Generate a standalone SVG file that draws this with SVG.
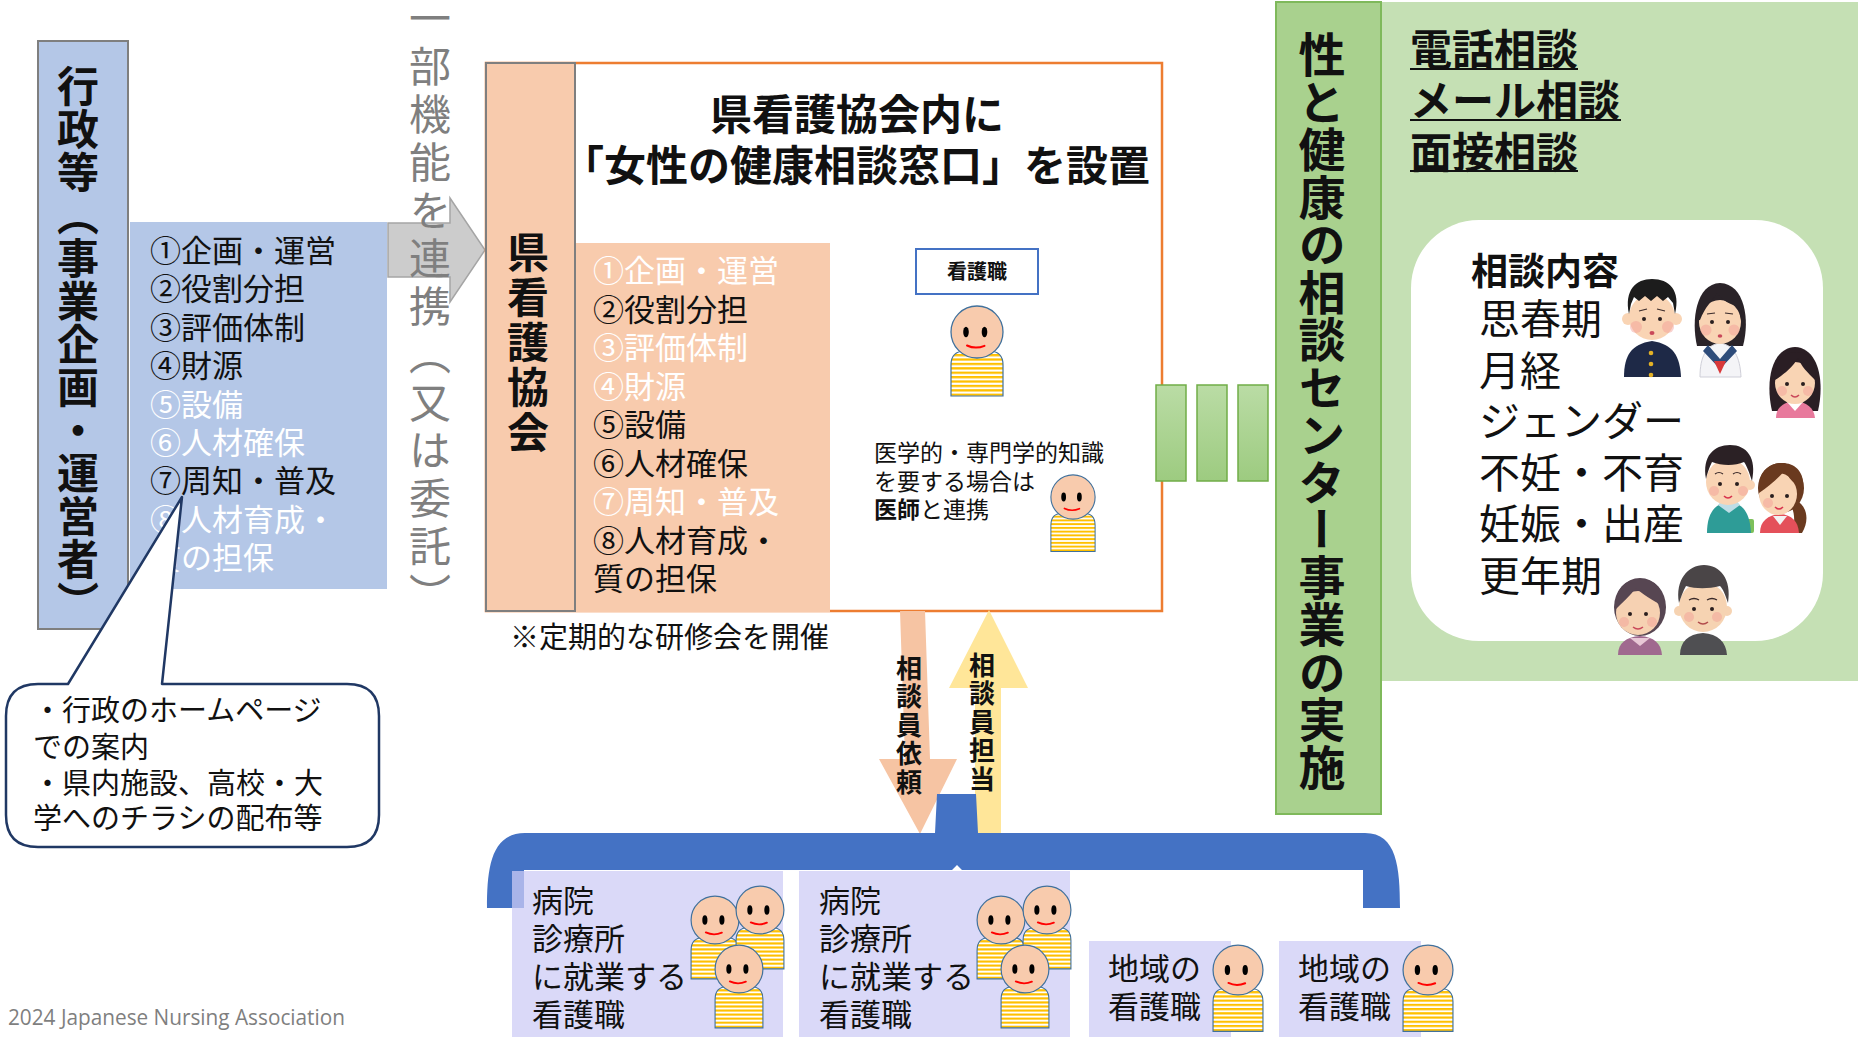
<svg xmlns="http://www.w3.org/2000/svg" xmlns:xlink="http://www.w3.org/1999/xlink" width="1858" height="1037" viewBox="0 0 1858 1037">
  <style>
    text { font-family: "Noto Sans CJK JP", "Noto Sans", sans-serif; fill: #111; }
    .b { font-weight: 700; }
    .vt { writing-mode: vertical-rl; }
    .wt { fill: #fff; }
    .list { font-size: 31px; }
    .skin { fill: #F9D4B4; }
    .blush { fill: #F29C94; opacity: 0.45; }
    .eye { fill: #2A1F1F; }
  </style>
  <defs>
    <pattern id="stripe" patternUnits="userSpaceOnUse" width="10" height="4.4">
      <rect width="10" height="4.4" fill="#FFFFFF"/>
      <rect width="10" height="2.3" fill="#FFC000"/>
    </pattern>
    <linearGradient id="gbar" x1="0" y1="0" x2="0" y2="1">
      <stop offset="0" stop-color="#BADCA5"/>
      <stop offset="1" stop-color="#9DCB80"/>
    </linearGradient>
    <!-- simple nurse figure, head centred on the origin -->
    <g id="person">
      <path d="M-26,64 V33 Q-26,19 -12,19 H12 Q26,19 26,33 V64 Z" fill="url(#stripe)" stroke="#41719C" stroke-width="1.2"/>
      <circle r="26" fill="#F8CBAD" stroke="#41719C" stroke-width="1.3"/>
      <ellipse cx="-11" cy="0" rx="2.8" ry="5.2" fill="#000"/>
      <ellipse cx="7.5" cy="0" rx="2.8" ry="5.2" fill="#000"/>
      <path d="M-10,13.5 Q-1.5,17.5 7.5,13.8" fill="none" stroke="#FF0000" stroke-width="2" stroke-linecap="round"/>
    </g>
  </defs>

  <!-- administration column -->
  <g id="admin">
    <rect x="38" y="41" width="90" height="588" fill="#B4C7E7" stroke="#7F7F7F" stroke-width="2"/>
    <text class="vt b" x="78" y="65" font-size="42" letter-spacing="1">行政等（事業企画・運営者）</text>
  </g>

  <!-- administration role list -->
  <g id="admin-list">
    <rect x="130" y="222" width="257" height="367" fill="#B4C7E7"/>
    <text class="list" x="150" y="262">①企画・運営<tspan x="150" dy="38.4">②役割分担</tspan><tspan x="150" dy="38.4">③評価体制</tspan><tspan x="150" dy="38.4">④財源</tspan><tspan class="wt" x="150" dy="38.4">⑤設備</tspan><tspan class="wt" x="150" dy="38.4">⑥人材確保</tspan><tspan x="150" dy="38.4">⑦周知・普及</tspan><tspan class="wt" x="150" dy="38.4">⑧人材育成・</tspan><tspan class="wt" x="150" dy="38.4">質の担保</tspan></text>
  </g>

  <!-- partial delegation arrow -->
  <g id="delegation">
    <polygon points="388,223 450,223 450,198 485,250 450,302 450,277 388,277" fill="#CCCCCC" stroke="#A5A5A5" stroke-width="1.5"/>
    <text class="vt" x="430" y="-3" font-size="42" letter-spacing="6" style="fill:#7F7F7F">一部機能を連携（又は委託）</text>
  </g>

  <!-- nursing association and consultation desk -->
  <g id="association">
    <rect x="486" y="63" width="676" height="548" fill="#FFFFFF" stroke="#ED7D31" stroke-width="2.5"/>
    <rect x="486" y="63" width="89" height="548" fill="#F8CBAD" stroke="#7F7F7F" stroke-width="2"/>
    <text class="vt b" x="528" y="231" font-size="42" letter-spacing="3">県看護協会</text>
    <text class="b" x="710" y="130" font-size="42">県看護協会内に<tspan x="562" dy="51">「女性の健康相談窓口」を設置</tspan></text>
  </g>

  <g id="association-list">
    <rect x="576" y="243" width="254" height="369" fill="#F8CBAD"/>
    <text class="list" x="593" y="282"><tspan class="wt">①企画・運営</tspan><tspan x="593" dy="38.5">②役割分担</tspan><tspan class="wt" x="593" dy="38.5">③評価体制</tspan><tspan class="wt" x="593" dy="38.5">④財源</tspan><tspan x="593" dy="38.5">⑤設備</tspan><tspan x="593" dy="38.5">⑥人材確保</tspan><tspan class="wt" x="593" dy="38.5">⑦周知・普及</tspan><tspan x="593" dy="38.5">⑧人材育成・</tspan><tspan x="593" dy="38.5">質の担保</tspan></text>
  </g>

  <g id="nurse">
    <rect x="916" y="249" width="122" height="45" fill="#FFFFFF" stroke="#4472C4" stroke-width="2"/>
    <text class="b" x="977" y="279" font-size="20" text-anchor="middle">看護職</text>
    <use href="#person" transform="translate(977,332)"/>
  </g>

  <g id="doctor">
    <text x="874" y="461" font-size="23">医学的・専門学的知識<tspan x="874" dy="28.5">を要する場合は</tspan><tspan x="874" dy="28.5" class="b">医師</tspan><tspan>と連携</tspan></text>
    <use href="#person" transform="translate(1073,497) scale(0.85)"/>
  </g>

  <text id="training" x="510" y="648" font-size="29">※定期的な研修会を開催</text>

  <!-- link bars to the centre -->
  <g id="link-bars" fill="url(#gbar)" stroke="#70AD47" stroke-width="1.5">
    <rect x="1156" y="385" width="30" height="96"/>
    <rect x="1197" y="385" width="30" height="96"/>
    <rect x="1238" y="385" width="30" height="96"/>
  </g>

  <!-- consultation centre -->
  <g id="center-panel">
    <rect x="1381" y="2" width="477" height="679" fill="#C5E0B4"/>
    <rect x="1276" y="2" width="105" height="812" fill="#A9D18E" stroke="#7FB95B" stroke-width="2"/>
    <text class="vt b" x="1322" y="31" font-size="47" letter-spacing="0.5">性と健康の相談センター事業の実施</text>
  </g>

  <g id="channels">
    <text class="b" x="1410" y="65" font-size="42">電話相談<tspan x="1410" dy="51">メール相談</tspan><tspan x="1410" dy="52">面接相談</tspan></text>
    <g stroke="#111" stroke-width="2">
      <line x1="1410" y1="69" x2="1578" y2="69"/>
      <line x1="1410" y1="120" x2="1621" y2="120"/>
      <line x1="1410" y1="171" x2="1578" y2="171"/>
    </g>
  </g>

  <g id="topics">
    <rect x="1411" y="220" width="412" height="421" rx="68" fill="#FFFFFF"/>
    <text class="b" x="1471" y="285" font-size="37">相談内容</text>
    <text x="1479" y="334" font-size="41">思春期<tspan x="1479" dy="52">月経</tspan><tspan x="1479" dy="50">ジェンダー</tspan><tspan x="1479" dy="52">不妊・不育</tspan><tspan x="1479" dy="51">妊娠・出産</tspan><tspan x="1479" dy="52">更年期</tspan></text>
  </g>

  <!-- illustrated consulters -->
  <g id="boy">
    <path d="M1624,377 C1624,356 1631,344 1652,341 C1673,344 1680,356 1681,377 Z" fill="#1E2947"/>
    <circle cx="1651" cy="353" r="2.3" fill="#E3B126"/>
    <circle cx="1651" cy="364" r="2.3" fill="#E3B126"/>
    <circle cx="1651" cy="375" r="2.3" fill="#E3B126"/>
    <circle class="skin" cx="1628" cy="319" r="6"/>
    <circle class="skin" cx="1676" cy="319" r="6"/>
    <ellipse class="skin" cx="1652" cy="317" rx="23" ry="23"/>
    <path d="M1629,314 C1624,290 1636,279 1652,279 C1669,279 1681,290 1675,314 L1673,303 L1668,297 L1663,301 L1657,296 L1651,301 L1645,296 L1639,301 L1634,297 L1631,304 Z" fill="#1C1C1C"/>
    <circle class="blush" cx="1636" cy="327" r="6"/>
    <circle class="blush" cx="1668" cy="327" r="6"/>
    <circle class="eye" cx="1644" cy="319" r="2"/>
    <circle class="eye" cx="1660" cy="319" r="2"/>
    <path d="M1639,311 L1647,309 M1657,309 L1665,311" stroke="#3A2A2A" stroke-width="1.2" fill="none"/>
    <ellipse cx="1652" cy="333" rx="2.5" ry="2" fill="#C9485A"/>
  </g>

  <g id="schoolgirl">
    <path d="M1697,346 C1691,320 1696,284 1720,283 C1745,284 1750,320 1743,346 Z" fill="#2A2328"/>
    <path d="M1700,377 C1700,357 1706,345 1720,343 C1734,345 1740,357 1741,377 Z" fill="#F4F4F7" stroke="#CFCFD8" stroke-width="1"/>
    <path d="M1703,351 L1720,369 L1737,351 L1732,345 L1720,359 L1708,345 Z" fill="#2E4C7A"/>
    <path d="M1714,361 L1720,374 L1726,361 Z" fill="#D9393A"/>
    <ellipse class="skin" cx="1720" cy="322" rx="21" ry="22"/>
    <path d="M1699,320 C1697,297 1707,287 1720,287 C1734,287 1744,297 1741,320 L1738,306 C1730,305 1722,300 1717,293 C1712,301 1705,307 1700,320 Z" fill="#2A2328"/>
    <circle class="blush" cx="1706" cy="330" r="5.5"/>
    <circle class="blush" cx="1734" cy="330" r="5.5"/>
    <circle class="eye" cx="1712" cy="322" r="2"/>
    <circle class="eye" cx="1728" cy="322" r="2"/>
    <path d="M1707,314 L1715,313 M1725,313 L1733,314" stroke="#3A2A2A" stroke-width="1.2" fill="none"/>
    <ellipse cx="1720" cy="336" rx="2.3" ry="1.8" fill="#C9485A"/>
  </g>

  <g id="girl">
    <path d="M1772,411 C1765,380 1772,348 1795,347 C1818,348 1825,380 1818,411 Z" fill="#2A1E24"/>
    <path d="M1776,418 C1776,408 1783,402 1795,401 C1807,402 1814,408 1815,418 Z" fill="#E8799C"/>
    <path d="M1787,402 L1795,411 L1803,402 Z" fill="#FFFFFF"/>
    <ellipse class="skin" cx="1795" cy="383" rx="20" ry="21"/>
    <path d="M1775,380 C1774,361 1784,352 1796,352 C1809,352 1817,361 1815,380 C1808,373 1801,366 1798,358 C1792,368 1783,375 1775,380 Z" fill="#2A1E24"/>
    <circle class="blush" cx="1782" cy="391" r="5"/>
    <circle class="blush" cx="1808" cy="391" r="5"/>
    <circle class="eye" cx="1787" cy="384" r="2"/>
    <circle class="eye" cx="1803" cy="384" r="2"/>
    <path d="M1791,395 Q1795,399 1799,395" stroke="#C9485A" stroke-width="1.5" fill="none"/>
  </g>

  <g id="young-man">
    <rect x="1747" y="519" width="7" height="14" rx="2" fill="#7DC05A"/>
    <path d="M1707,533 C1707,513 1715,503 1729,502 C1743,503 1750,513 1751,533 Z" fill="#2E9C97"/>
    <path d="M1718,505 L1729,513 L1740,505 L1736,500 L1722,500 Z" fill="#BFDDE6"/>
    <circle class="skin" cx="1750" cy="485" r="5"/>
    <ellipse class="skin" cx="1728" cy="482" rx="22" ry="23"/>
    <path d="M1706,479 C1702,456 1714,445 1730,445 C1747,445 1757,458 1752,481 C1749,472 1747,466 1744,462 C1735,466 1722,466 1712,462 C1709,468 1707,474 1706,479 Z" fill="#2B2125"/>
    <circle class="blush" cx="1714" cy="491" r="5"/>
    <circle class="blush" cx="1743" cy="491" r="5"/>
    <circle class="eye" cx="1720" cy="484" r="2"/>
    <circle class="eye" cx="1737" cy="484" r="2"/>
    <path d="M1715,474 Q1719,471 1723,474 M1733,474 Q1737,471 1741,474" stroke="#3A2A2A" stroke-width="1.2" fill="none"/>
    <path d="M1724,496 Q1728,500 1732,496" stroke="#D8344E" stroke-width="1.6" fill="none"/>
  </g>

  <g id="young-woman">
    <path d="M1795,500 C1807,505 1810,520 1802,533 L1792,533 C1796,520 1794,510 1790,504 Z" fill="#6A3A1F"/>
    <ellipse cx="1781" cy="488" rx="23" ry="25" fill="#6A3A1F"/>
    <path d="M1760,533 C1760,521 1768,515 1780,514 C1792,515 1798,521 1799,533 Z" fill="#E4505A"/>
    <path d="M1773,516 L1780,525 L1787,516 Z" fill="#F2F2F2"/>
    <ellipse class="skin" cx="1778" cy="494" rx="19" ry="21"/>
    <path d="M1759,493 C1757,473 1768,463 1782,463 C1796,463 1805,473 1803,489 C1795,485 1788,478 1785,470 C1778,479 1768,487 1759,493 Z" fill="#6A3A1F"/>
    <circle class="blush" cx="1768" cy="503" r="5"/>
    <circle class="eye" cx="1772" cy="496" r="2"/>
    <circle class="eye" cx="1787" cy="496" r="2"/>
    <path d="M1775,507 Q1779,511 1783,507" stroke="#D8344E" stroke-width="1.6" fill="none"/>
  </g>

  <g id="older-woman">
    <ellipse cx="1640" cy="607" rx="26" ry="29" fill="#574652"/>
    <path d="M1618,655 C1618,643 1626,637 1640,636 C1654,637 1661,643 1662,655 Z" fill="#A0698F"/>
    <path d="M1630,638 L1640,646 L1650,638 Z" fill="#E8C7D6"/>
    <ellipse cx="1638" cy="613" rx="22" ry="22" fill="#F6D1B2"/>
    <path d="M1616,609 C1614,589 1626,579 1640,579 C1655,579 1665,590 1663,606 C1652,600 1642,594 1636,588 C1630,596 1622,603 1616,609 Z" fill="#574652"/>
    <circle class="blush" cx="1624" cy="622" r="5"/>
    <circle class="blush" cx="1652" cy="622" r="5"/>
    <circle class="eye" cx="1630" cy="614" r="2"/>
    <circle class="eye" cx="1646" cy="614" r="2"/>
    <path d="M1633,627 Q1638,631 1643,627" stroke="#C9485A" stroke-width="1.5" fill="none"/>
  </g>

  <g id="older-man">
    <circle cx="1679" cy="611" r="5" fill="#F6D3B2"/>
    <circle cx="1727" cy="611" r="5" fill="#F6D3B2"/>
    <path d="M1680,655 C1680,642 1688,634 1703,633 C1718,634 1726,642 1727,655 Z" fill="#4F4F52"/>
    <ellipse cx="1703" cy="607" rx="24" ry="25" fill="#F6D3B2"/>
    <path d="M1679,603 C1675,580 1688,565 1704,565 C1720,565 1732,579 1728,603 C1725,594 1723,589 1720,586 C1708,589 1696,589 1686,586 C1683,591 1681,597 1679,603 Z" fill="#4A4547"/>
    <circle class="blush" cx="1689" cy="617" r="5"/>
    <circle class="blush" cx="1717" cy="617" r="5"/>
    <circle class="eye" cx="1694" cy="609" r="2"/>
    <circle class="eye" cx="1712" cy="609" r="2"/>
    <path d="M1689,600 Q1694,597 1699,600 M1707,600 Q1712,597 1717,600" stroke="#3A2A2A" stroke-width="1.4" fill="none"/>
    <path d="M1698,622 Q1703,626 1708,622" stroke="#B24C4C" stroke-width="1.5" fill="none"/>
  </g>

  <!-- publicity callout -->
  <g id="publicity">
    <path d="M38,684 L68,684 L182,497 L162,684 L347,684 Q379,684 379,716 L379,815 Q379,847 347,847 L38,847 Q6,847 6,815 L6,716 Q6,684 38,684 Z" fill="#FFFFFF" stroke="#203864" stroke-width="2.5" stroke-linejoin="round"/>
    <text x="33" y="721" font-size="29">・行政のホームページ<tspan x="33" dy="37">での案内</tspan><tspan x="33" dy="36">・県内施設、高校・大</tspan><tspan x="33" dy="35">学へのチラシの配布等</tspan></text>
  </g>

  <!-- request / assignment arrows -->
  <g id="connectors">
    <polygon points="900,611 925,611 930,759 957,759 920,834 879,759 905,759" fill="#F6C4A3"/>
    <polygon points="975,833 975,688 949,688 989,610 1028,688 1001,688 1001,833" fill="#FFE699"/>
    <text class="vt b" x="909" y="655" font-size="26" letter-spacing="2.5">相談員依頼</text>
    <text class="vt b" x="982" y="652" font-size="26" letter-spacing="2.5">相談員担当</text>
    <path d="M937,794 L976,794 L978,833 L1365,833 C1397,833 1400,868 1400,908 L1363,908 L1363,870 L962,870 L957,865 L952,870 L524,870 L524,908 L487,908 C487,868 491,833 525,833 L935,833 Z" fill="#4472C4"/>
  </g>

  <!-- nurse pools -->
  <g id="hospital-a">
    <rect x="512" y="871" width="271" height="166" fill="#CDCCF6" fill-opacity="0.74"/>
    <text class="list" x="532" y="912">病院<tspan x="532" dy="38">診療所</tspan><tspan x="532" dy="38">に就業する</tspan><tspan x="532" dy="38">看護職</tspan></text>
    <use href="#person" transform="translate(715,920) scale(0.92)"/>
    <use href="#person" transform="translate(760,910) scale(0.92)"/>
    <use href="#person" transform="translate(739,969) scale(0.92)"/>
  </g>
  <g id="hospital-b">
    <rect x="799" y="871" width="271" height="166" fill="#CDCCF6" fill-opacity="0.74"/>
    <text class="list" x="819" y="912">病院<tspan x="819" dy="38">診療所</tspan><tspan x="819" dy="38">に就業する</tspan><tspan x="819" dy="38">看護職</tspan></text>
    <use href="#person" transform="translate(1001,920) scale(0.92)"/>
    <use href="#person" transform="translate(1047,910) scale(0.92)"/>
    <use href="#person" transform="translate(1025,969) scale(0.92)"/>
  </g>
  <g id="community-a">
    <rect x="1089" y="941" width="142" height="96" fill="#CDCCF6" fill-opacity="0.74"/>
    <text class="list" x="1108" y="980">地域の<tspan x="1108" dy="38">看護職</tspan></text>
    <use href="#person" transform="translate(1238,970) scale(0.96)"/>
  </g>
  <g id="community-b">
    <rect x="1279" y="941" width="142" height="96" fill="#CDCCF6" fill-opacity="0.74"/>
    <text class="list" x="1298" y="980">地域の<tspan x="1298" dy="38">看護職</tspan></text>
    <use href="#person" transform="translate(1428,970) scale(0.96)"/>
  </g>

  <text id="copyright" x="8" y="1025" font-size="22" textLength="337" lengthAdjust="spacingAndGlyphs" style="font-family:'Open Sans','Liberation Sans',sans-serif;fill:#7F7F7F">2024 Japanese Nursing Association</text>
</svg>
